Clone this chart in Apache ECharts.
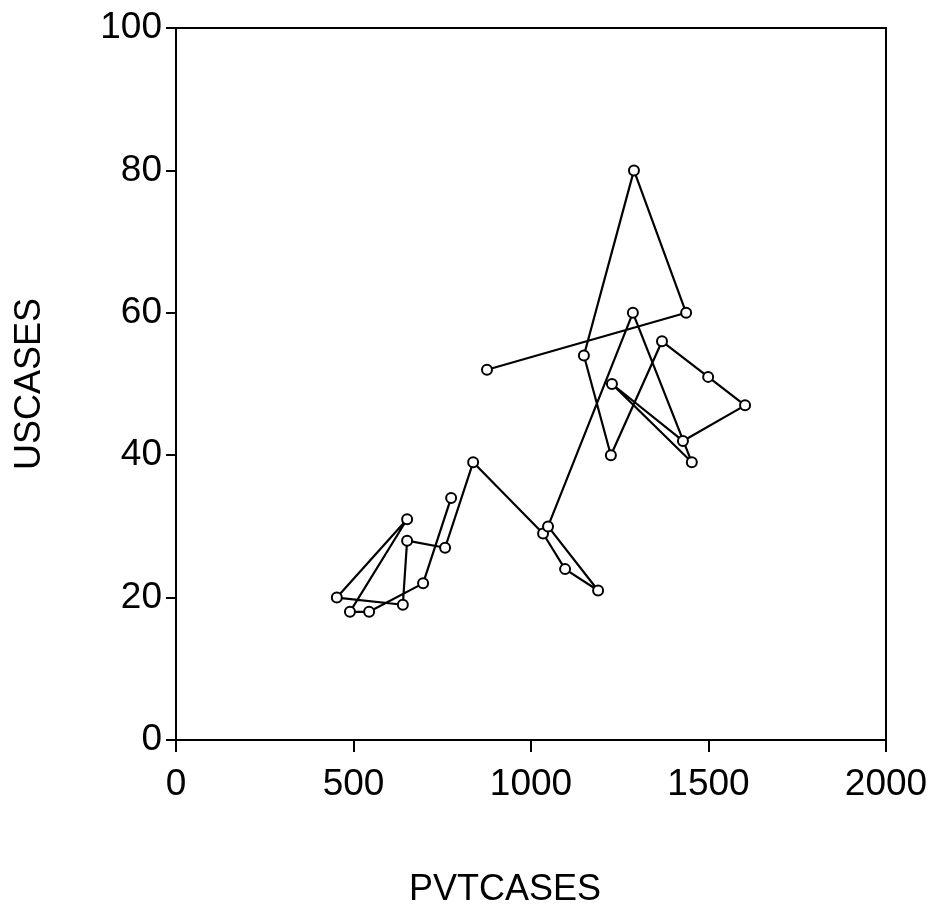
<!DOCTYPE html>
<html>
<head>
<meta charset="utf-8">
<script src="https://cdn.jsdelivr.net/npm/echarts@6/dist/echarts.min.js"></script>
<style>
  html, body { margin: 0; padding: 0; background: #fff; }
  #main { width: 933px; height: 913px; }
</style>
</head>
<body>
<div id="main"></div>
<script>
// 按顺序连接的点 (PVTCASES, USCASES)
const pvtcases = [775, 696, 544, 490, 651, 453, 639, 651, 758, 837, 1034, 1096, 1189,
                  1048, 1287, 1453, 1228, 1428, 1603, 1499, 1369, 1225, 1149, 1290, 1437, 876];
const uscases  = [34, 22, 18, 18, 31, 20, 19, 28, 27, 39, 29, 24, 21,
                  30, 60, 39, 50, 42, 47, 51, 56, 40, 54, 80, 60, 52];
const xTicks = [0, 500, 1000, 1500, 2000];
const yTicks = [0, 20, 40, 60, 80, 100];

const chart = echarts.init(document.getElementById('main'));
const font = 'Liberation Sans, Arial, sans-serif';

let option = {
    animation: false,
    backgroundColor: '#fff',
    grid: {
        left: 176, right: 47, top: 28, bottom: 172,
        show: true, borderColor: '#000', borderWidth: 2
    },
    xAxis: {
        type: 'value',
        min: xTicks[0], max: xTicks[xTicks.length - 1], interval: 500,
        name: 'PVTCASES',
        nameLocation: 'middle',
        nameGap: 132,
        nameTextStyle: { color: '#000', fontSize: 36, fontFamily: font, padding: [0, 52, 0, 0] },
        axisLine: { show: true, lineStyle: { color: '#000', width: 2 } },
        axisTick: { show: true, inside: false, length: 12, lineStyle: { color: '#000', width: 2 } },
        axisLabel: { color: '#000', fontSize: 37, fontFamily: font, margin: 26,
                     formatter: v => String(v) },
        splitLine: { show: false }
    },
    yAxis: {
        type: 'value',
        min: yTicks[0], max: yTicks[yTicks.length - 1], interval: 20,
        name: 'USCASES',
        nameLocation: 'middle',
        nameGap: 128,
        nameTextStyle: { color: '#000', fontSize: 36, fontFamily: font },
        axisLine: { show: true, lineStyle: { color: '#000', width: 2 } },
        axisTick: { show: true, inside: false, length: 10, lineStyle: { color: '#000', width: 2 } },
        axisLabel: { color: '#000', fontSize: 37, fontFamily: font, margin: 14 },
        splitLine: { show: false }
    },
    series: [{
        type: 'line',
        data: pvtcases.map((x, i) => [x, uscases[i]]),
        symbol: 'emptyCircle',
        symbolSize: 10,
        lineStyle: { color: '#000', width: 2.2 },
        itemStyle: { color: '#000', borderColor: '#000', borderWidth: 2 }
    }]
};
chart.setOption(option);
</script>
</body>
</html>
